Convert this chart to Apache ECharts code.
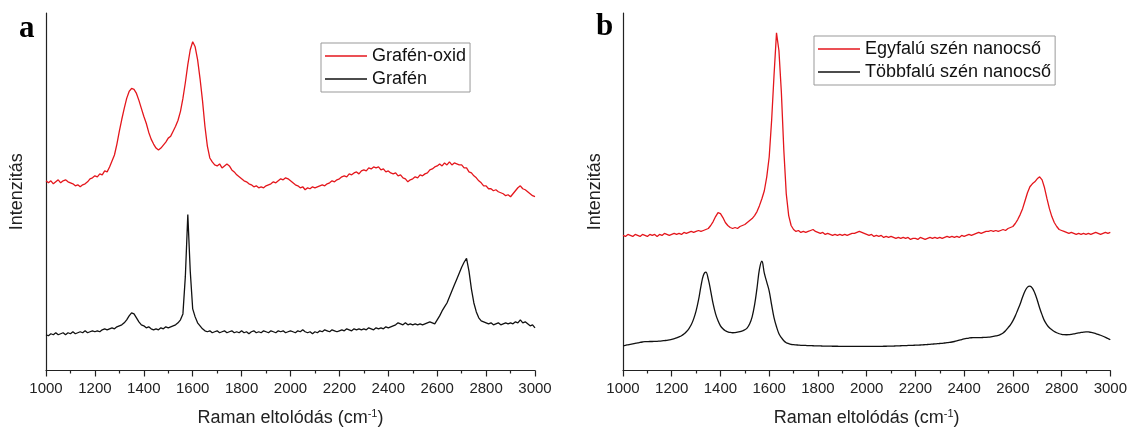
<!DOCTYPE html>
<html>
<head>
<meta charset="utf-8">
<script src="https://cdn.jsdelivr.net/npm/echarts@6/dist/echarts.min.js"></script>
<style>
html,body{margin:0;padding:0;background:#fff;}
#chart{width:1130px;height:432px;}
</style>
</head>
<body>
<div id="chart"></div>
<script>
// Raman shift grid: 1000..3000 cm-1, step 10
const wnStart = 1000, wnStep = 10;
const xTicks = [1000, 1200, 1400, 1600, 1800, 2000, 2200, 2400, 2600, 2800, 3000];

// Panel a: Grafén-oxid (arbitrary intensity units)
const grafenOxid = [
191,189,191,188,190,192,189,191,192,190,
189,188,186,187,185,187,188,190,193,194,
196,195,198,197,201,200,205,211,217,228,
241,253,264,274,281,284,283,279,272,264,
256,249,240,233,228,224,222,224,227,230,
234,236,241,246,252,261,274,290,308,323,
331,326,313,294,272,246,226,214,210,207,
206,208,204,206,208,206,202,200,197,195,
193,191,190,188,187,185,186,184,185,184,
186,187,188,190,189,191,193,192,194,193,
191,189,187,186,184,185,182,184,183,185,
184,185,186,187,186,188,189,191,190,192,
193,195,196,195,198,197,199,200,198,201,
202,201,204,203,205,204,205,202,203,200,
201,199,198,199,196,197,194,193,190,192,
193,195,194,197,196,198,199,202,203,205,
206,208,206,209,207,210,207,209,208,207,
207,204,204,200,199,196,194,191,189,186,
186,183,183,181,182,180,179,178,176,177,
175,178,181,184,186,183,182,180,178,176,
175];

// Panel a: Grafén
const grafen = [
36,35,37,36,38,36,37,38,36,38,
37,39,37,38,39,38,40,38,39,40,
39,40,39,41,42,41,42,43,42,44,
45,46,48,51,55,58,57,53,49,46,
45,43,44,42,41,42,41,43,42,44,
43,44,45,46,48,51,57,95,157,100,
62,54,48,45,42,40,39,40,38,39,
40,38,39,40,38,39,40,38,39,38,
40,38,39,37,39,40,38,39,38,40,
39,38,40,39,38,40,39,40,38,39,
40,39,38,40,39,41,39,38,39,37,
39,38,40,39,41,40,39,41,40,39,
40,41,40,42,41,40,42,41,42,41,
42,41,43,42,41,43,42,43,42,44,
43,44,45,46,48,47,46,48,46,47,
46,47,46,47,46,47,48,49,48,47,
51,55,60,64,68,74,80,86,92,98,
104,109,113,100,82,68,59,53,50,49,
48,47,48,46,47,48,46,47,48,47,
48,47,49,48,51,48,49,47,45,46,
43];

// Panel b: Egyfalú szén nanocső
const egyfalu = [
136,135,137,136,135,137,136,135,137,136,
135,137,136,137,135,137,136,138,137,136,
137,138,137,138,137,139,138,139,140,139,
140,141,140,141,142,143,146,150,155,159,
158,154,149,146,144,143,144,143,145,146,
147,149,151,153,156,160,166,173,181,195,
215,252,298,340,322,280,222,178,156,146,
142,140,141,139,140,139,140,141,142,140,
139,138,139,137,138,137,136,137,136,137,
136,137,136,137,138,138,139,140,139,138,
137,136,137,135,136,135,136,134,135,134,
135,134,133,134,133,134,133,134,132,133,
133,132,134,133,132,133,134,133,134,133,
134,133,134,135,134,135,134,135,134,136,
135,136,137,136,137,138,139,138,139,140,
140,141,140,141,140,141,142,141,143,144,
145,148,152,157,163,171,179,185,188,190,
193,195,192,184,173,163,155,149,145,142,
141,140,139,138,139,138,137,138,137,138,
137,138,137,138,139,138,137,138,139,138,
139];

// Panel b: Többfalú szén nanocső
const tobbfalu = [
25,25.4,25.9,26.4,26.9,27.4,27.9,28.3,28.7,29,
29.1,29.2,29.2,29.3,29.4,29.6,29.8,30.1,30.4,30.8,
31.3,32,32.8,33.8,35,36.7,39,42,46,52,
60,71,85,96,99,92,80,67,57,50,
45,42,40,39,38.3,38,38.2,38.6,39.2,40,
41,43,47,54,66,83,102,110,98,89,
80,66,53,44,37,33,30,28,27,26.3,
26,25.8,25.6,25.4,25.3,25.2,25.1,25,24.9,24.8,
24.7,24.7,24.6,24.6,24.5,24.5,24.4,24.4,24.4,24.3,
24.3,24.3,24.3,24.2,24.2,24.2,24.2,24.2,24.2,24.2,
24.2,24.2,24.2,24.2,24.3,24.3,24.3,24.4,24.4,24.5,
24.5,24.6,24.7,24.8,24.9,25,25.1,25.2,25.3,25.4,
25.5,25.6,25.7,25.9,26,26.2,26.4,26.6,26.8,27,
27.2,27.4,27.7,28,28.3,28.7,29.2,29.8,30.5,31.2,
31.8,32.3,32.7,33,33.1,33.2,33.2,33.2,33.3,33.4,
33.6,33.9,34.3,34.8,35.4,36.3,37.8,40,43,46,
50,55,61,67,74,80,84,85,83,78,
71,63,56,50,46,43,41,39.3,38,37,
36.4,36.1,36,36.1,36.4,36.8,37.3,37.8,38.3,38.7,
38.9,38.8,38.4,37.9,37.2,36.4,35.5,34.5,33.4,32.2,
31];

const toPairs = arr => arr.map((v, i) => [wnStart + i * wnStep, v]);

const RED = '#e4161c';
const BLACK = '#111111';
const FONT = 'Liberation Sans';

function xAxis(gi) {
  return {
    type: 'value', gridIndex: gi, min: 1000, max: 3000, interval: 200,
    name: 'Raman eltolódás (cm{sup|-1})',
    nameLocation: 'middle', nameGap: 38,
    nameTextStyle: {
      fontFamily: FONT, fontSize: 18, color: '#222',
      rich: { sup: { fontFamily: FONT, fontSize: 11, color: '#222', verticalAlign: 'top', padding: [0, 0, 8, 0] } }
    },
    axisLine: { onZero: false, lineStyle: { color: '#222', width: 1.2 } },
    axisTick: { show: true, length: 6, lineStyle: { color: '#222', width: 1.2 } },
    minorTick: { show: true, splitNumber: 2, length: 3, lineStyle: { color: '#222', width: 1.2 } },
    axisLabel: { fontFamily: FONT, fontSize: 15, color: '#222', margin: 11,
      formatter: v => xTicks.includes(v) ? String(v) : '' },
    splitLine: { show: false }
  };
}
function yAxis(gi, gap) {
  return {
    type: 'value', gridIndex: gi, min: 0, max: 360,
    name: 'Intenzitás', nameLocation: 'middle', nameGap: gap,
    nameTextStyle: { fontFamily: FONT, fontSize: 18, color: '#222' },
    axisLine: { show: true, onZero: false, lineStyle: { color: '#222', width: 1.2 } },
    axisTick: { show: false }, axisLabel: { show: false }, splitLine: { show: false }
  };
}
function lineSeries(name, data, color, xi, smooth) {
  return {
    name, type: 'line', xAxisIndex: xi, yAxisIndex: xi, data: toPairs(data),
    showSymbol: false, symbol: 'none', smooth: smooth || false,
    lineStyle: { color, width: 1.3 },
    itemStyle: { color }, animation: false
  };
}
function legend(names, left, top) {
  return {
    data: names, orient: 'vertical', left, top,
    icon: 'rect', itemWidth: 42, itemHeight: 1.6, itemGap: 5,
    padding: [4, 4, 4, 4], borderColor: '#999', borderWidth: 1, backgroundColor: '#fff',
    textStyle: { fontFamily: FONT, fontSize: 18, color: '#111', padding: [0, 0, 0, 0] }
  };
}

const chart = echarts.init(document.getElementById('chart'), null, { renderer: 'canvas' });
chart.setOption({
  animation: false,
  backgroundColor: '#fff',
  grid: [
    { left: 46, top: 13, width: 489, height: 360 },
    { left: 623, top: 13, width: 489, height: 360 }
  ],
  xAxis: [xAxis(0), xAxis(1)],
  yAxis: [yAxis(0, 20), yAxis(1, 19)],
  legend: [
    legend(['Grafén-oxid', 'Grafén'], 321, 43),
    legend(['Egyfalú szén nanocső', 'Többfalú szén nanocső'], 814, 36)
  ],
  series: [
    lineSeries('Grafén-oxid', grafenOxid, RED, 0),
    lineSeries('Grafén', grafen, BLACK, 0),
    lineSeries('Egyfalú szén nanocső', egyfalu, RED, 1),
    lineSeries('Többfalú szén nanocső', tobbfalu, BLACK, 1, 0.4)
  ],
  graphic: [
    { type: 'text', left: 19, top: 13, style: { text: 'a', font: 'bold 31px "Liberation Serif"', fill: '#000' } },
    { type: 'text', left: 596, top: 11, style: { text: 'b', font: 'bold 31px "Liberation Serif"', fill: '#000' } }
  ]
});
</script>
</body>
</html>
